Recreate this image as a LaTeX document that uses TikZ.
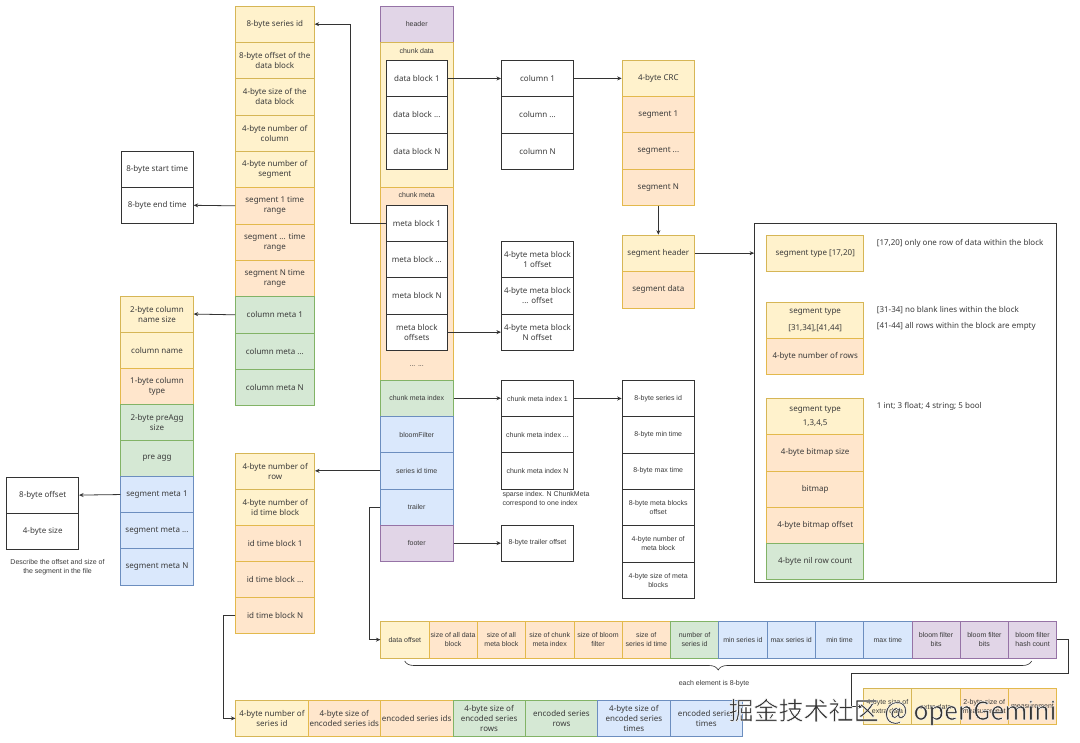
\documentclass[tikz,border=0pt]{standalone}
\usepackage{fontspec}
\setmainfont{Noto Sans}
\newfontfamily\arialf{Liberation Sans}
\newfontfamily\cjkf{Noto Sans CJK SC}
\usetikzlibrary{arrows.meta,decorations.pathreplacing}
\definecolor{yelF}{HTML}{FFF2CC}\definecolor{yelD}{HTML}{D6B656}
\definecolor{oraF}{HTML}{FFE6CC}\definecolor{oraD}{HTML}{D79B00}
\definecolor{grnF}{HTML}{D5E8D4}\definecolor{grnD}{HTML}{82B366}
\definecolor{bluF}{HTML}{DAE8FC}\definecolor{bluD}{HTML}{6C8EBF}
\definecolor{purF}{HTML}{E1D5E7}\definecolor{purD}{HTML}{9673A6}
\definecolor{txt}{HTML}{3A3A3A}
\definecolor{lnc}{HTML}{333333}
\definecolor{wmc}{HTML}{333333}
\tikzset{
  bx/.style={draw, rectangle, inner sep=0pt, align=center, text=txt, line width=0.6pt,
             font=\fontsize{8}{10}\selectfont},
  af/.style={font=\arialf\fontsize{7}{9}\selectfont},
  yel/.style={bx, fill=yelF, draw=yelD},
  ora/.style={bx, fill=oraF, draw=oraD!70},
  grn/.style={bx, fill=grnF, draw=grnD},
  blu/.style={bx, fill=bluF, draw=bluD},
  pur/.style={bx, fill=purF, draw=purD},
  wht/.style={bx, fill=white, draw=lnc, line width=0.7pt},
  colA/.style={minimum width=79, minimum height=36.33},
  colT/.style={minimum width=72.3, minimum height=36.2},
  colB/.style={minimum width=72.6, minimum height=36.1},
  colC/.style={minimum width=79, minimum height=36},
  colD/.style={minimum width=73.3, minimum height=36.3},
  colDi/.style={minimum width=60.3, minimum height=36.33},
  colE/.style={minimum width=72.4, minimum height=36.33},
  colG/.style={minimum width=72.7, minimum height=36.25},
  colH/.style={minimum width=97, minimum height=36.2},
  barA/.style={af, minimum width=48.29, minimum height=37.3},
  barB/.style={minimum width=72.4, minimum height=36.7},
  barC/.style={af, minimum width=48.35, minimum height=36},
  lbl/.style={font=\arialf\fontsize{7}{9}\selectfont, text=txt, align=center, inner sep=0pt},
  note/.style={font=\fontsize{8}{10}\selectfont, text=txt, align=left, inner sep=0pt, anchor=west},
  arr/.style={draw=lnc, line width=0.8pt, -{Stealth[length=4.5pt,width=4pt]}},
}
\begin{document}
\begin{tikzpicture}[x=1pt,y=-1pt]
\useasboundingbox (0,0) rectangle (1080,743);
\fill[white] (0,0) rectangle (1080,743);

% ---- column A
\node[yel,colA] (A1) at (274.8,24.17) {8-byte series id};
\node[yel,colA] (A2) at (274.8,60.5) {8-byte offset of the\\data block};
\node[yel,colA] (A3) at (274.8,96.83) {4-byte size of the\\data block};
\node[yel,colA] (A4) at (274.8,133.17) {4-byte number of\\column};
\node[yel,colA] (A5) at (274.8,169.5) {4-byte number of\\segment};
\node[ora,colA] (A6) at (274.8,205.83) {segment 1 time\\range};
\node[ora,colA] (A7) at (274.8,242.17) {segment ... time\\range};
\node[ora,colA] (A8) at (274.8,278.5) {segment N time\\range};
\node[grn,colA] (A9) at (274.8,314.83) {column meta 1};
\node[grn,colA] (A10) at (274.8,351.17) {column meta ...};
\node[grn,colA] (A11) at (274.8,387.5) {column meta N};

% ---- start / end time
\node[wht,colT] (st) at (157.2,169.1) {8-byte start time};
\node[wht,colT] (et) at (157.2,205.3) {8-byte end time};

% ---- column B
\node[yel,colB] (B1) at (157,314.05) {2-byte column\\name size};
\node[yel,colB] (B2) at (157,350.15) {column name};
\node[ora,colB] (B3) at (157,386.25) {1-byte column\\type};
\node[grn,colB] (B4) at (157,422.35) {2-byte preAgg\\size};
\node[grn,colB] (B5) at (157,458.45) {pre agg};
\node[blu,colB] (B6) at (157,494.55) {segment meta 1};
\node[blu,colB] (B7) at (157,530.65) {segment meta ...};
\node[blu,colB] (B8) at (157,566.75) {segment meta N};

% ---- offset / size
\node[wht,colT,minimum width=72] (o1) at (42.7,495.1) {8-byte offset};
\node[wht,colT,minimum width=72] (o2) at (42.7,531.25) {4-byte size};
\node[lbl] (onote) at (57.5,567.5) {Describe the offset and size of\\the segment in the file};

% ---- column C
\node[yel,colC] (C1) at (275.2,471.3) {4-byte number of\\row};
\node[yel,colC] (C2) at (275.2,507.3) {4-byte number of\\id time block};
\node[ora,colC] (C3) at (275.2,543.3) {id time block 1};
\node[ora,colC] (C4) at (275.2,579.3) {id time block ...};
\node[ora,colC] (C5) at (275.2,615.3) {id time block N};

% ---- center column D
\node[pur,colD,af] (hdr) at (416.7,24.15) {header};
\node[yel,minimum width=73.3,minimum height=145.4] (cdata) at (416.7,115) {};
\node[lbl] (cdl) at (416.7,50.7) {chunk data};
\node[wht,colDi] (db1) at (416.85,78.5) {data block 1};
\node[wht,colDi] (db2) at (416.85,114.85) {data block ...};
\node[wht,colDi] (db3) at (416.85,151.15) {data block N};
\node[ora,minimum width=73.3,minimum height=192.3] (cmeta) at (416.7,283.85) {};
\node[lbl] (cml) at (416.7,195.3) {chunk meta};
\node[wht,colDi] (mb1) at (416.85,223.3) {meta block 1};
\node[wht,colDi] (mb2) at (416.85,259.5) {meta block ...};
\node[wht,colDi] (mb3) at (416.85,295.85) {meta block N};
\node[wht,colDi] (mbo) at (416.85,332.15) {meta block\\offsets};
\node[lbl] (dots) at (416.7,366) {... ...};
\node[grn,colD,af] (cmi) at (416.7,398.2) {chunk meta index};
\node[blu,colD,af] (bf) at (416.7,434.5) {bloomFilter};
\node[blu,colD,af] (sit) at (416.7,470.85) {series id time};
\node[blu,colD,af] (trl) at (416.7,507) {trailer};
\node[pur,colD,af] (ftr) at (416.7,543.15) {footer};

% ---- column E
\node[wht,colE] (col1) at (537.5,78.5) {column 1};
\node[wht,colE] (col2) at (537.5,114.85) {column ...};
\node[wht,colE] (col3) at (537.5,151.15) {column N};
\node[wht,colE] (E21) at (537.5,259.5) {4-byte meta block\\1 offset};
\node[wht,colE] (E22) at (537.5,295.85) {4-byte meta block\\... offset};
\node[wht,colE] (E23) at (537.5,332.15) {4-byte meta block\\N offset};
\node[wht,colE,af] (ci1) at (537.5,398.5) {chunk meta index 1};
\node[wht,colE,af] (ci2) at (537.5,434.7) {chunk meta index ...};
\node[wht,colE,af] (ci3) at (537.5,470.85) {chunk meta index N};
\node[lbl,align=left,anchor=west,font=\arialf\fontsize{7}{8.5}\selectfont] (cinote) at (502.3,499.2) {sparse index. N ChunkMeta\\correspond to one index};
\node[wht,colE,af] (tro) at (537.5,543.15) {8-byte trailer offset};

% ---- column F
\node[wht,colE,af,minimum width=72.3] (F1) at (658.2,398.5) {8-byte series id};
\node[wht,colE,af,minimum width=72.3] (F2) at (658.2,434.8) {8-byte min time};
\node[wht,colE,af,minimum width=72.3] (F3) at (658.2,471.1) {8-byte max time};
\node[wht,colE,af,minimum width=72.3] (F4) at (658.2,507.5) {8-byte meta blocks\\offset};
\node[wht,colE,af,minimum width=72.3] (F5) at (658.2,543.8) {4-byte number of\\meta block};
\node[wht,colE,af,minimum width=72.3] (F6) at (658.2,580.1) {4-byte size of meta\\blocks};

% ---- column G
\node[yel,colG] (crc) at (658.35,78.4) {4-byte CRC};
\node[ora,colG] (s1) at (658.35,114.7) {segment 1};
\node[ora,colG] (s2) at (658.35,150.9) {segment ...};
\node[ora,colG] (s3) at (658.35,187.2) {segment N};
\node[yel,colG,minimum height=36.3] (sh) at (658.35,253.15) {segment header};
\node[ora,colG,minimum height=36.7] (sd) at (658.35,289.65) {segment data};

% ---- container H
\node[draw=lnc,line width=0.8pt,rectangle,inner sep=0pt,minimum width=302.2,minimum height=359] (H) at (905.6,402.8) {};
\node[yel,colH,minimum height=36.4] (t1) at (815.2,253.5) {segment type [17,20]};
\node[yel,colH,minimum height=36.3] (t2) at (815.2,320.15) {segment type\\[7pt]\relax[31,34],[41,44]};
\node[ora,colH,minimum height=36] (t3) at (815.2,356.3) {4-byte number of rows};
\node[yel,colH,minimum height=36.4] (t4) at (815.2,416.5) {segment type\\[4.5pt]\relax 1,3,4,5};
\node[ora,colH,minimum height=36.3] (t5) at (815.2,452.85) {4-byte bitmap size};
\node[ora,colH,minimum height=36.3] (t6) at (815.2,489.15) {bitmap};
\node[ora,colH,minimum height=36] (t7) at (815.2,525.3) {4-byte bitmap offset};
\node[grn,colH,minimum height=36] (t8) at (815.2,561.3) {4-byte nil row count};
\node[note] (n1) at (876.7,243.3) {[17,20] only one row of data within the block};
\node[note] (n2) at (876.7,310) {[31-34] no blank lines within the block};
\node[note] (n3) at (876.7,326.7) {[41-44] all rows within the block are empty};
\node[note] (n4) at (876.7,406.7) {1 int; 3 float; 4 string; 5 bool};

% ---- bar 1 (trailer)
\node[yel,barA] (b1) at (404.85,639.65) {data offset};
\node[ora,barA] (b2) at (453.1,639.65) {size of all data\\block};
\node[ora,barA] (b3) at (501.4,639.65) {size of all\\meta block};
\node[ora,barA] (b4) at (549.7,639.65) {size of chunk\\meta index};
\node[ora,barA] (b5) at (598,639.65) {size of bloom\\filter};
\node[ora,barA] (b6) at (646.3,639.65) {size of\\series id time};
\node[grn,barA] (b7) at (694.6,639.65) {number of\\series id};
\node[blu,barA] (b8) at (742.9,639.65) {min series id};
\node[blu,barA] (b9) at (791.2,639.65) {max series id};
\node[blu,barA] (b10) at (839.5,639.65) {min time};
\node[blu,barA] (b11) at (887.8,639.65) {max time};
\node[pur,barA] (b12) at (936.1,639.65) {bloom filter\\bits};
\node[pur,barA] (b13) at (984.4,639.65) {bloom filter\\bits};
\node[pur,barA] (b14) at (1032.6,639.65) {bloom filter\\hash count};
\coordinate (brR) at (1031.7,661);
\coordinate (brL) at (404.7,661);
\draw[lnc,line width=0.6pt,decorate,decoration={brace,amplitude=9pt}] (brR) -- (brL);
\node[lbl] (each) at (714,684) {each element is 8-byte};

% ---- bar 2 (series id time)
\node[yel,barB] (bb1) at (271.9,718.35) {4-byte number of\\series id};
\node[ora,barB] (bb2) at (344.3,718.35) {4-byte size of\\encoded series ids};
\node[ora,barB] (bb3) at (416.7,718.35) {encoded series ids};
\node[grn,barB] (bb4) at (489.1,718.35) {4-byte size of\\encoded series\\rows};
\node[grn,barB] (bb5) at (561.5,718.35) {encoded series\\rows};
\node[blu,barB] (bb6) at (633.9,718.35) {4-byte size of\\encoded series\\times};
\node[blu,barB] (bb7) at (706.3,718.35) {encoded series\\times};

% ---- bar 3 (extra)
\node[yel,barC] (c1) at (887.5,706.5) {4-byte size of\\extra data};
\node[yel,barC] (c2) at (935.8,706.5) {extra data};
\node[ora,barC] (c3) at (984.2,706.5) {2-byte size of\\measurement};
\node[ora,barC] (c4) at (1032.5,706.5) {measurement};

% ---- connectors
\coordinate (j1) at (350.7,0);
\coordinate (j2) at (369.3,0);
\coordinate (j3) at (223.2,0);
\coordinate (j4) at (1068.3,673.3);
\coordinate (j5) at (851.7,673.3);
\draw[arr] (mb1.west) -- (mb1.west -| j1) |- (A1.east);
\draw[arr] (A6.west) -- (et.east);
\draw[arr] (A9.west) -- (B1.east);
\draw[arr] (B6.west) -- (o1.east);
\draw[arr] (db1.east) -- (col1.west);
\draw[arr] (col1.east) -- (crc.west);
\draw[arr] (s3.south) -- (sh.north);
\draw[arr] (sh.east) -- (sh.east -| H.west);
\draw[arr] (mbo.east) -- (E23.west);
\draw[arr] (cmi.east) -- (cmi.east -| ci1.west);
\draw[arr] (ci1.east) -- (F1.west);
\draw[arr] (ftr.east) -- (tro.west);
\draw[arr] (sit.west) -- (sit.west -| C1.east);
\draw[arr] (trl.west) -- (trl.west -| j2) |- (b1.west);
\draw[arr] (C5.west) -- (C5.west -| j3) |- (bb1.west);
\draw[arr] (b14.east) -| (j4) -- (j5) |- (c1.west);

% ---- watermark (dark glyphs with a thin white outline)
\node[font=\cjkf\fontsize{25}{25}\selectfont,text=wmc,inner sep=0pt] (wm) at (892.5,712)
  {\special{pdf:literal direct 2 Tr 0.5 w 1 1 1 RG}掘金技术社区 @ openGemini\special{pdf:literal direct 0 Tr}};
\end{tikzpicture}
\end{document}
